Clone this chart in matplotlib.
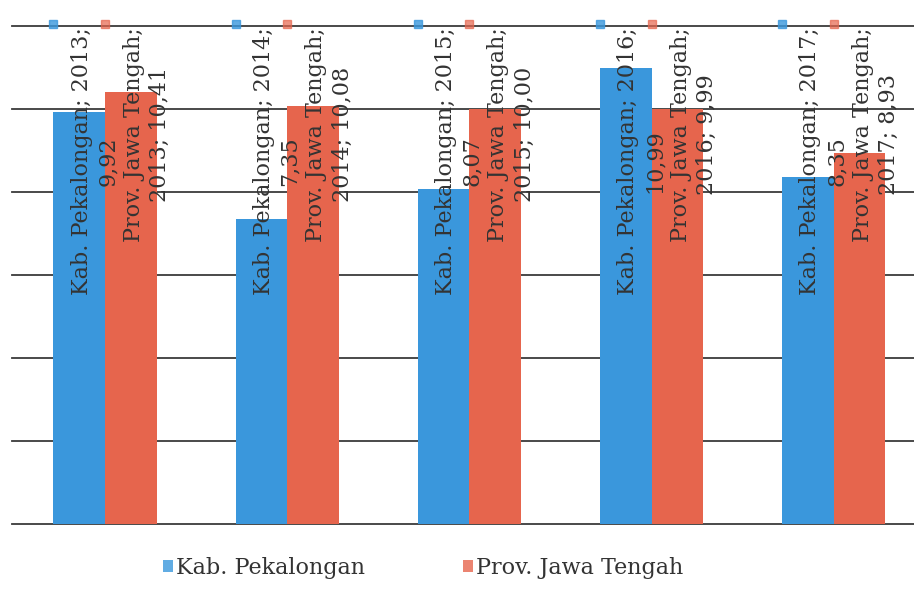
import numpy as np
import matplotlib
matplotlib.use("Agg")
import matplotlib.pyplot as plt

years = ["2013", "2014", "2015", "2016", "2017"]
series_names = ["Kab. Pekalongan", "Prov. Jawa Tengah"]
kab_values = [9.92, 7.35, 8.07, 10.99, 8.35]
prov_values = [10.41, 10.08, 10.00, 9.99, 8.93]

BLUE = "#3A97DC"
RED = "#E6654D"
TEXT = "#333333"
FS = 16


def fmt(v):
    return f"{v:.2f}".replace(".", ",")


fig = plt.figure(figsize=(9.14, 6.02), dpi=100)
ax = fig.add_axes([12 / 914, 78 / 602, 902 / 914, 498 / 602])

x = np.arange(len(years))
w = 0.283
b1 = ax.bar(x - w / 2, kab_values, w, color=BLUE, zorder=3, label=series_names[0])
b2 = ax.bar(x + w / 2, prov_values, w, color=RED, zorder=3, label=series_names[1])

ax.set_xlim(-0.51, 4.44)
ax.set_ylim(0, 12)
for yv in range(0, 13, 2):
    ax.axhline(yv, color="#3a3a3a", lw=1.3, zorder=1, clip_on=False)

for s in ax.spines.values():
    s.set_visible(False)
ax.set_xticks([])
ax.set_yticks([])

# data labels, rotated, anchored at the top of the plot
for i, yr in enumerate(years):
    ax.text(x[i] - w / 2 + 0.085, 11.97, f"{series_names[0]}; {yr};\n{fmt(kab_values[i])}",
            rotation=90, ha="center", va="top", multialignment="center",
            fontsize=FS, family="DejaVu Serif", color=TEXT, zorder=4,
            linespacing=1.25)
    ax.text(x[i] + w / 2 + 0.09, 11.97, f"{series_names[1]};\n{yr}; {fmt(prov_values[i])}",
            rotation=90, ha="center", va="top", multialignment="center",
            fontsize=FS, family="DejaVu Serif", color=TEXT, zorder=4,
            linespacing=1.25)
    # legend keys of the labels at the top
    ax.plot(x[i] - w, 12.05, "s", color=BLUE, ms=5.5, alpha=0.8, clip_on=False, zorder=5)
    ax.plot(x[i], 12.05, "s", color=RED, ms=5.5, alpha=0.7, clip_on=False, zorder=5)

leg = fig.legend(handles=[b1, b2], labels=series_names, loc="center",
                 bbox_to_anchor=(423 / 914, 34 / 602), ncol=2, frameon=False,
                 prop={"family": "DejaVu Serif", "size": FS},
                 handlelength=0.45, handleheight=0.45, handletextpad=0.15,
                 columnspacing=4.4, labelcolor=TEXT)
for h in leg.legend_handles:
    h.set_alpha(0.8)

fig.savefig("out.png", dpi=100)
